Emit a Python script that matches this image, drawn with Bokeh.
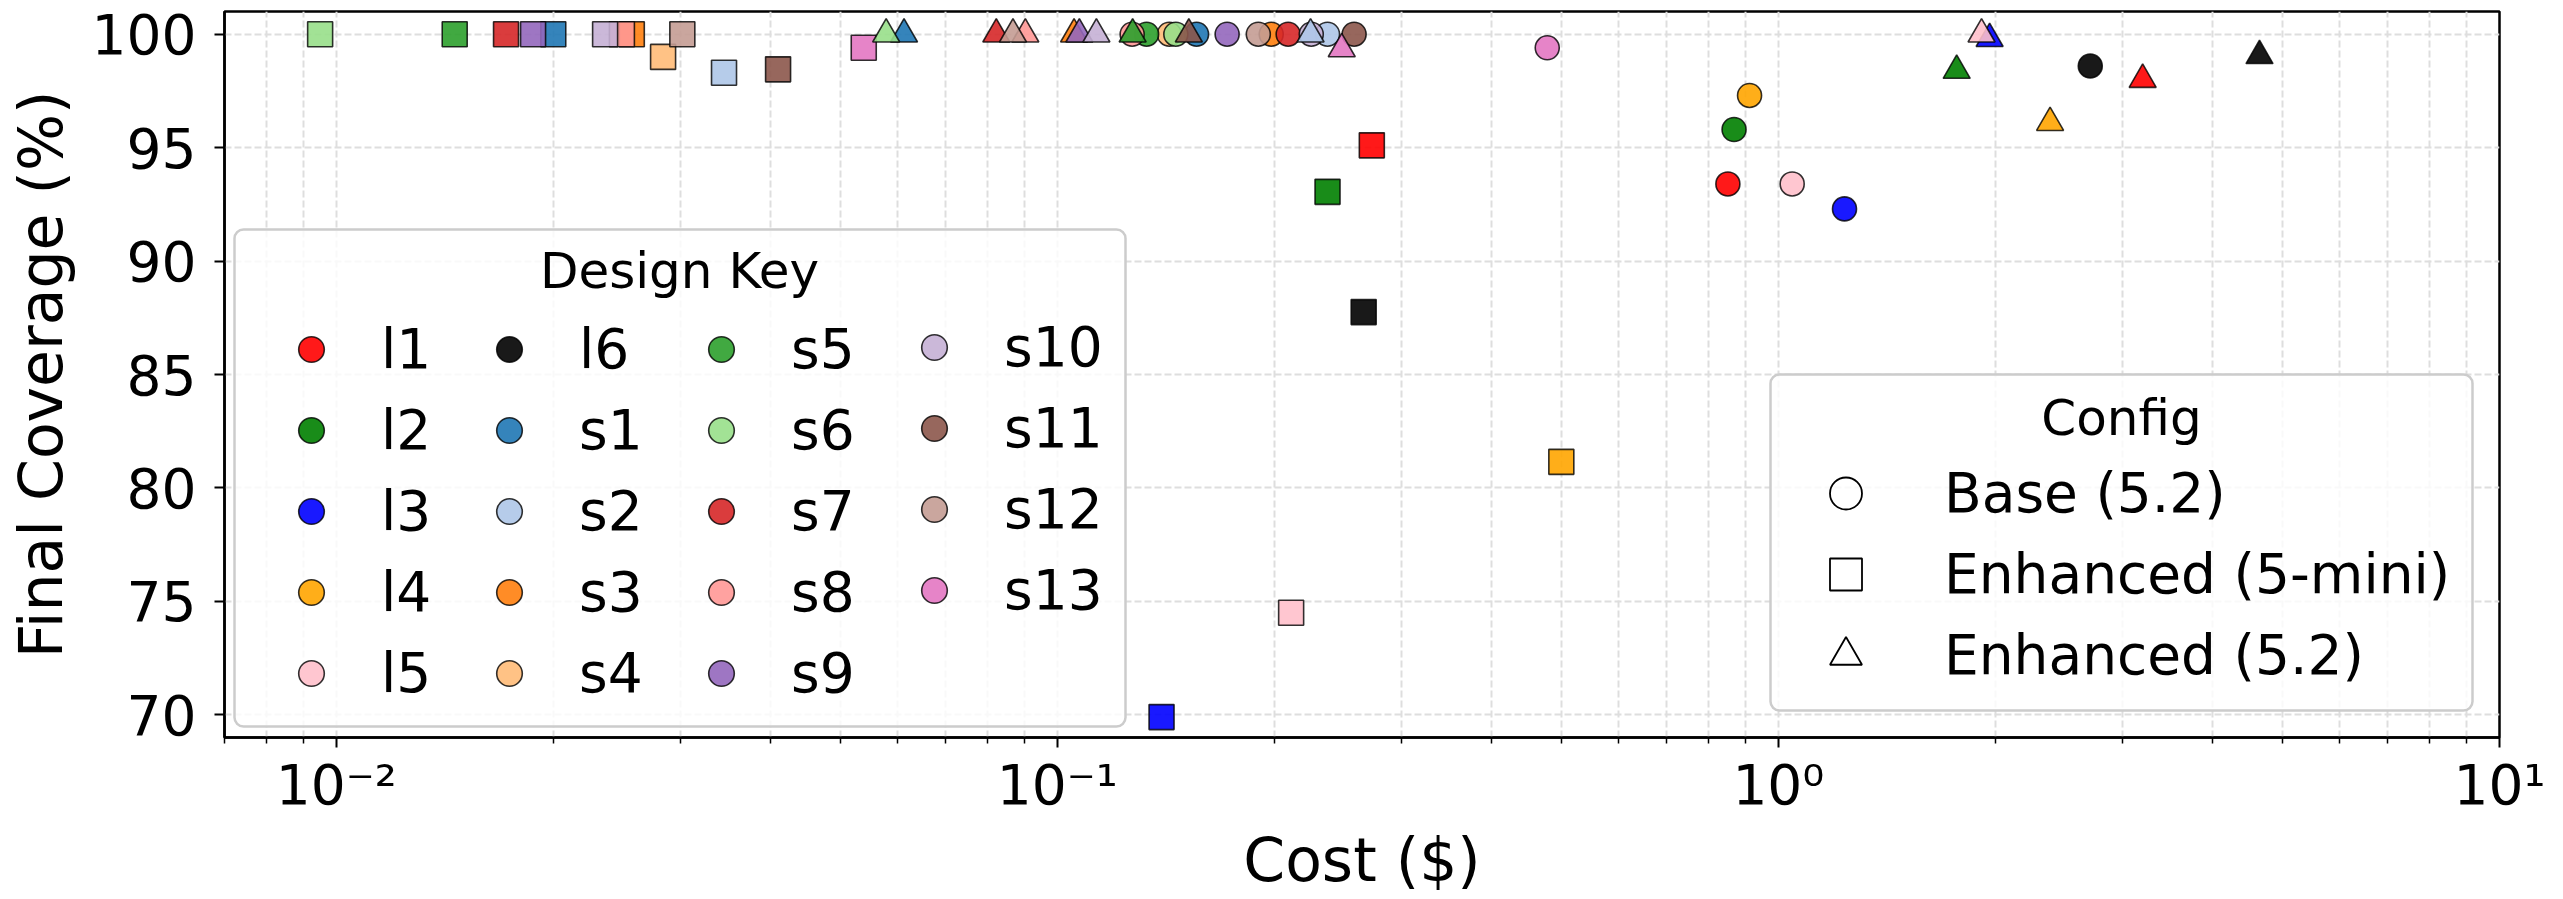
from bokeh.plotting import figure
from bokeh.models import (Range1d, FixedTicker, CustomJSTickFormatter, ColumnDataSource,
                          Legend, LegendItem, Label, BoxAnnotation)
from bokeh.embed import file_html
from bokeh.resources import INLINE

# ---------------- data ----------------
designs = ["l1", "l2", "l3", "l4", "l5", "l6",
           "s1", "s2", "s3", "s4", "s5", "s6", "s7", "s8", "s9", "s10", "s11", "s12", "s13"]
design_colors = ["#ff0000", "#008000", "#0000ff", "#ffa500", "#ffc0cb", "#000000",
                 "#1f77b4", "#aec7e8", "#ff7f0e", "#ffbb78", "#2ca02c", "#98df8a", "#d62728",
                 "#ff9896", "#9467bd", "#c5b0d5", "#8c564b", "#c49c94", "#e377c2"]

config_labels = ["Base (5.2)", "Enhanced (5-mini)", "Enhanced (5.2)"]

# Base (5.2)
base_design = ["l1", "l2", "l3", "l4", "l5", "l6",
               "s1", "s2", "s3", "s4", "s5", "s6", "s7", "s8", "s9", "s10", "s11", "s12", "s13"]
base_cost = [0.851, 0.868, 1.235, 0.912, 1.045, 2.707,
             0.156, 0.237, 0.198, 0.143, 0.133, 0.146, 0.209, 0.127, 0.172, 0.225, 0.258, 0.190, 0.478]
base_cov = [93.4, 95.8, 92.3, 97.3, 93.4, 98.6,
            100, 100, 100, 100, 100, 100, 100, 100, 100, 100, 100, 100, 99.4]

# Enhanced (5-mini)
mini_design = ["l1", "l2", "l3", "l4", "l5", "l6",
               "s1", "s2", "s3", "s4", "s5", "s6", "s7", "s8", "s9", "s10", "s11", "s12", "s13"]
mini_cost = [0.273, 0.237, 0.1395, 0.500, 0.211, 0.266,
             0.0200, 0.0345, 0.0257, 0.0284, 0.0146, 0.0095, 0.0172, 0.0249, 0.01875, 0.0236,
             0.0410, 0.0302, 0.0539]
mini_cov = [95.1, 93.05, 69.9, 81.15, 74.5, 87.75,
            100, 98.3, 100, 99.0, 100, 100, 100, 100, 100, 100, 98.45, 100, 99.4]

# Enhanced (5.2)
enh_design = ["l1", "l2", "l3", "l4", "l5", "l6",
              "s1", "s2", "s3", "s5", "s6", "s7", "s8", "s9", "s10", "s11", "s12", "s13"]
enh_cost = [3.20, 1.767, 1.963, 2.381, 1.913, 4.647,
            0.0613, 0.2245, 0.1055, 0.1272, 0.0579, 0.0823, 0.0903, 0.1073, 0.1133, 0.1522,
            0.0868, 0.248]
enh_cov = [98.0, 98.4, 99.8, 96.1, 100, 99.05,
           100, 100, 100, 100, 100, 100, 100, 100, 100, 100, 100, 99.35]

x_major_ticks = [0.01, 0.1, 1, 10]
y_ticks = [70, 75, 80, 85, 90, 95, 100]

# ---------------- figure ----------------
FONT = "DejaVu Sans"
color_of = dict(zip(designs, design_colors))

p = figure(width=2563, height=899, x_axis_type="log",
           x_range=Range1d(0.007, 10), y_range=Range1d(69, 101),
           output_backend="svg", toolbar_location=None,
           min_border_left=224, min_border_right=64, min_border_top=11, min_border_bottom=162,
           background_fill_color="white", border_fill_color="white")

p.outline_line_color = "black"
p.outline_line_width = 2.5
p.outline_line_alpha = 1.0

x_minor = [k * 10.0 ** e for e in range(-3, 1) for k in range(2, 10)]
xticker = FixedTicker(ticks=x_major_ticks, minor_ticks=x_minor)
yticker = FixedTicker(ticks=y_ticks)

xa = p.xaxis[0]
xa.ticker = xticker
xa.formatter = CustomJSTickFormatter(code="""
const sup = {"-": "\\u207b", "0": "\\u2070", "1": "\\u00b9", "2": "\\u00b2", "3": "\\u00b3",
             "4": "\\u2074", "5": "\\u2075", "6": "\\u2076", "7": "\\u2077", "8": "\\u2078", "9": "\\u2079"};
const e = String(Math.round(Math.log10(tick)));
return "10" + e.split("").map(c => sup[c]).join("");
""")
ya = p.yaxis[0]
ya.ticker = yticker

for ax in (xa, ya):
    ax.axis_line_color = "black"
    ax.axis_line_width = 2.5
    ax.major_tick_line_color = "black"
    ax.major_tick_line_width = 2
    ax.major_tick_out = 10
    ax.major_tick_in = 0
    ax.minor_tick_line_color = "black"
    ax.minor_tick_line_width = 1.5
    ax.minor_tick_out = 6
    ax.minor_tick_in = 0
    ax.major_label_text_font = FONT
    ax.major_label_text_font_size = "55px"
    ax.major_label_text_color = "black"
    ax.axis_label_text_font = FONT
    ax.axis_label_text_font_size = "60px"
    ax.axis_label_text_font_style = "normal"
    ax.axis_label_text_color = "black"

ya.minor_tick_line_color = None
xa.axis_label = "Cost ($)"
ya.axis_label = "Final Coverage (%)"
xa.major_label_standoff = 5
xa.axis_label_standoff = 5
ya.major_label_standoff = 18
ya.axis_label_standoff = 13

GRID = "#dedede"
p.xgrid.ticker = xticker
p.ygrid.ticker = yticker
for g in (p.xgrid, p.ygrid):
    g.grid_line_color = GRID
    g.grid_line_width = 2
    g.grid_line_dash = "7 3"
p.xgrid.minor_grid_line_color = GRID
p.xgrid.minor_grid_line_width = 2
p.xgrid.minor_grid_line_dash = "7 3"

src_base = ColumnDataSource(dict(x=base_cost, y=base_cov, c=[color_of[d] for d in base_design]))
src_mini = ColumnDataSource(dict(x=mini_cost, y=mini_cov, c=[color_of[d] for d in mini_design]))
src_enh = ColumnDataSource(dict(x=enh_cost, y=enh_cov, c=[color_of[d] for d in enh_design]))

common = dict(fill_alpha=0.9, line_color="black", line_alpha=0.8, line_width=1.6)
r_base = p.scatter("x", "y", source=src_base, marker="circle", size=24, fill_color="c", **common)
r_mini = p.scatter("x", "y", source=src_mini, marker="square", size=25, fill_color="c", **common)
r_enh = p.scatter("x", "y", source=src_enh, marker="triangle", size=27, fill_color="c", **common)

# hollow key markers for the config legend (not drawn in the plot area)
cfg_renderers = []
for src, m in zip((src_base, src_mini, src_enh), ("circle", "square", "triangle")):
    r = p.scatter("x", "y", source=src, marker=m, fill_color=None, line_color="black",
                  line_width=1.8)
    r.visible = False
    cfg_renderers.append(r)

# ---------------- legend frames & titles ----------------
box_style = dict(left_units="screen", right_units="screen", top_units="screen",
                 bottom_units="screen", fill_color="white", fill_alpha=0.8,
                 line_color="#cccccc", line_width=2.5, line_alpha=1.0)
boxes = [BoxAnnotation(left=10, right=901, top=508, bottom=11, **box_style),
         BoxAnnotation(left=1546, right=2248, top=363, bottom=27, **box_style)]
for b in boxes:
    try:
        b.border_radius = 9
    except Exception:
        pass
    p.add_layout(b)

title_style = dict(x_units="screen", y_units="screen", text_align="center",
                   text_baseline="middle", text_font=FONT, text_font_size="50px",
                   text_color="black")
p.add_layout(Label(x=455, y=467, text="Design Key", **title_style))
p.add_layout(Label(x=1897, y=320, text="Config", **title_style))

leg_common = dict(
    label_text_font=FONT, label_text_font_size="55px", label_text_color="black",
    border_line_color=None, background_fill_alpha=0.0,
    margin=0, padding=0, click_policy="none", orientation="vertical",
)

# Design Key: four columns of five rows
col_x = [37, 235, 447, 660]
col_y = [32, 32, 32, 115]
for c in range(4):
    names = base_design[c * 5:(c + 1) * 5]
    items = [LegendItem(label=d, renderers=[r_base], index=base_design.index(d)) for d in names]
    p.add_layout(Legend(items=items, location=(col_x[c], col_y[c]),
                        glyph_width=100, glyph_height=64, label_standoff=20, spacing=17,
                        **leg_common))

cfg_items = [LegendItem(label=l, renderers=[r]) for l, r in zip(config_labels, cfg_renderers)]
p.add_layout(Legend(items=cfg_items, location=(1564, 42),
                    glyph_width=115, glyph_height=80, label_standoff=41, spacing=1,
                    **leg_common))

open("out.html", "w").write(file_html(p, INLINE))
